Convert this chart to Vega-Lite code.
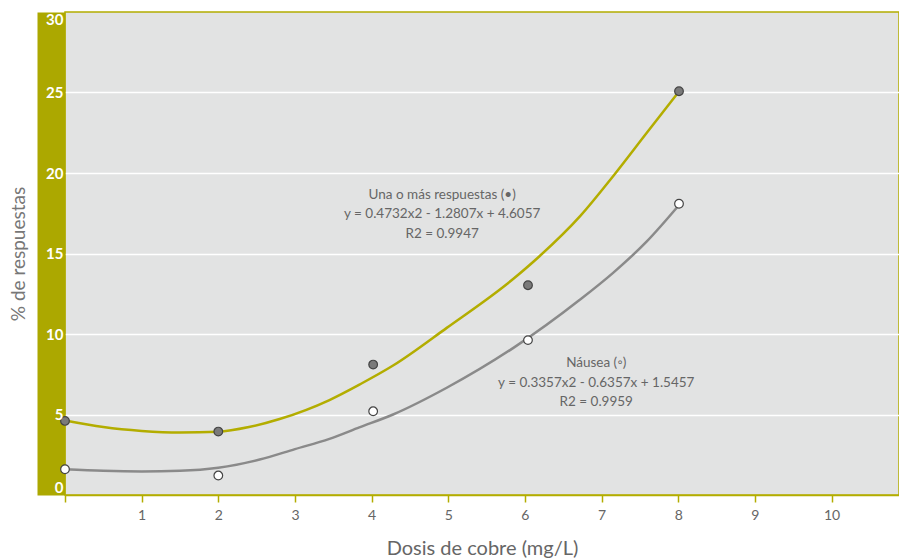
{
  "$schema": "https://vega.github.io/schema/vega-lite/v6.json",
  "width": 834,
  "height": 483,
  "autosize": {"type": "none"},
  "padding": {"left": 65, "top": 12, "right": 0, "bottom": 64},
  "background": "white",
  "config": {
    "font": "Lato",
    "view": {"fill": "#e2e3e3", "stroke": "#b3ad00", "strokeWidth": 1.5},
    "axis": {"labelFont": "Lato", "titleFont": "Lato"}
  },
  "datasets": {
    "curves": [
      {"serie": "Una o más respuestas", "dosis": 0, "pct": 4.63},
      {"serie": "Una o más respuestas", "dosis": 0.5, "pct": 4.22},
      {"serie": "Una o más respuestas", "dosis": 1.0, "pct": 3.98},
      {"serie": "Una o más respuestas", "dosis": 1.5, "pct": 3.88},
      {"serie": "Una o más respuestas", "dosis": 2.0, "pct": 3.93},
      {"serie": "Una o más respuestas", "dosis": 2.4, "pct": 4.22},
      {"serie": "Una o más respuestas", "dosis": 2.8, "pct": 4.72},
      {"serie": "Una o más respuestas", "dosis": 3.45, "pct": 5.9},
      {"serie": "Una o más respuestas", "dosis": 3.85, "pct": 6.88},
      {"serie": "Una o más respuestas", "dosis": 4.28, "pct": 8.04},
      {"serie": "Una o más respuestas", "dosis": 4.98, "pct": 10.38},
      {"serie": "Una o más respuestas", "dosis": 5.85, "pct": 13.43},
      {"serie": "Una o más respuestas", "dosis": 6.19, "pct": 14.83},
      {"serie": "Una o más respuestas", "dosis": 6.72, "pct": 17.32},
      {"serie": "Una o más respuestas", "dosis": 7.15, "pct": 19.8},
      {"serie": "Una o más respuestas", "dosis": 7.59, "pct": 22.5},
      {"serie": "Una o más respuestas", "dosis": 8.0, "pct": 25.0},
      {"serie": "Náusea", "dosis": 0, "pct": 1.6},
      {"serie": "Náusea", "dosis": 0.5, "pct": 1.5},
      {"serie": "Náusea", "dosis": 1.0, "pct": 1.46},
      {"serie": "Náusea", "dosis": 1.5, "pct": 1.5},
      {"serie": "Náusea", "dosis": 2.0, "pct": 1.69},
      {"serie": "Náusea", "dosis": 2.54, "pct": 2.2},
      {"serie": "Náusea", "dosis": 3.0, "pct": 2.85},
      {"serie": "Náusea", "dosis": 3.45, "pct": 3.49},
      {"serie": "Náusea", "dosis": 3.84, "pct": 4.2},
      {"serie": "Náusea", "dosis": 4.28, "pct": 5.0},
      {"serie": "Náusea", "dosis": 4.98, "pct": 6.66},
      {"serie": "Náusea", "dosis": 5.85, "pct": 9.14},
      {"serie": "Náusea", "dosis": 6.72, "pct": 12.14},
      {"serie": "Náusea", "dosis": 7.15, "pct": 13.8},
      {"serie": "Náusea", "dosis": 7.59, "pct": 15.75},
      {"serie": "Náusea", "dosis": 8.0, "pct": 17.95}
    ],
    "points": [
      {"serie": "Una o más respuestas", "dosis": 0, "pct": 4.6},
      {"serie": "Una o más respuestas", "dosis": 2, "pct": 3.94},
      {"serie": "Una o más respuestas", "dosis": 4.02, "pct": 8.1},
      {"serie": "Una o más respuestas", "dosis": 6.04, "pct": 13.03},
      {"serie": "Una o más respuestas", "dosis": 8.01, "pct": 25.08},
      {"serie": "Náusea", "dosis": 0, "pct": 1.6},
      {"serie": "Náusea", "dosis": 2, "pct": 1.21},
      {"serie": "Náusea", "dosis": 4.02, "pct": 5.2},
      {"serie": "Náusea", "dosis": 6.04, "pct": 9.62},
      {"serie": "Náusea", "dosis": 8.01, "pct": 18.09}
    ],
    "notes": [
      {"dosis": 4.92, "pct": 18.65, "texto": "Una o más respuestas (•)\ny = 0.4732x2 - 1.2807x + 4.6057\nR2 = 0.9947"},
      {"dosis": 6.93, "pct": 8.17, "texto": "Náusea (◦)\ny = 0.3357x2 - 0.6357x + 1.5457\nR2 = 0.9959"}
    ]
  },
  "encoding": {
    "x": {
      "field": "dosis",
      "type": "quantitative",
      "scale": {"domain": [0, 10.88], "nice": false, "zero": false},
      "axis": {
        "title": "Dosis de cobre (mg/L)",
        "values": [0, 1, 2, 3, 4, 5, 6, 7, 8, 9, 10],
        "labelExpr": "datum.value == 0 ? '' : datum.label",
        "labelFlush": false,
        "grid": false,
        "domainColor": "#b3ad00",
        "domainWidth": 1.5,
        "tickColor": "#b3ad00",
        "tickWidth": 1.5,
        "tickSize": 7,
        "labelColor": "#666666",
        "labelFontSize": 14,
        "labelPadding": 6,
        "titleColor": "#666666",
        "titleFontSize": 20,
        "titleFontWeight": "normal",
        "titlePadding": 16
      }
    }
  },
  "layer": [
    {
      "data": {"name": "curves"},
      "mark": {"type": "line", "interpolate": "monotone", "strokeWidth": 2.5},
      "encoding": {
        "y": {
          "field": "pct",
          "type": "quantitative",
          "scale": {"domain": [0, 30], "nice": false},
          "axis": {
            "orient": "left",
            "title": "% de respuestas",
            "values": [0, 5, 10, 15, 20, 25, 30],
            "offset": 14,
            "domain": true,
            "domainColor": "#aca800",
            "domainWidth": 28,
            "domainCap": "butt",
            "ticks": false,
            "labels": false,
            "grid": true,
            "gridColor": {"condition": {"test": "datum.value == 0 || datum.value == 30", "value": "transparent"}, "value": "white"},
            "gridWidth": 1.5,
            "zindex": 0,
            "titleX": -33,
            "titleBaseline": "middle",
            "titleColor": "#777777",
            "titleFontSize": 19,
            "titleFontWeight": "normal"
          }
        },
        "color": {
          "field": "serie",
          "type": "nominal",
          "scale": {"domain": ["Una o más respuestas", "Náusea"], "range": ["#b3ad00", "#8a8a8a"]},
          "legend": null
        }
      }
    },
    {
      "data": {"name": "points"},
      "mark": {"type": "point", "filled": true, "size": 75, "stroke": "#444444", "strokeWidth": 1.2, "opacity": 1},
      "encoding": {
        "y": {
          "field": "pct",
          "type": "quantitative",
          "scale": {"domain": [0, 30], "nice": false},
          "axis": {
            "orient": "left",
            "title": null,
            "values": [0, 5, 10, 15, 20, 25, 30],
            "domain": false,
            "ticks": false,
            "tickSize": 0,
            "grid": false,
            "labelPadding": 2,
            "labelFlush": true,
            "labelColor": "white",
            "labelFontWeight": "bold",
            "labelFontSize": 15,
            "zindex": 1
          }
        },
        "fill": {
          "field": "serie",
          "type": "nominal",
          "scale": {"domain": ["Una o más respuestas", "Náusea"], "range": ["#7a7a7a", "#ffffff"]},
          "legend": null
        }
      }
    },
    {
      "data": {"name": "notes"},
      "mark": {"type": "text", "align": "center", "baseline": "middle", "lineBreak": "\n", "lineHeight": 19.5, "fontSize": 13.5, "color": "#666666", "font": "Lato"},
      "encoding": {
        "y": {"field": "pct", "type": "quantitative", "axis": null},
        "text": {"field": "texto"}
      }
    }
  ],
  "resolve": {"axis": {"y": "independent"}}
}
